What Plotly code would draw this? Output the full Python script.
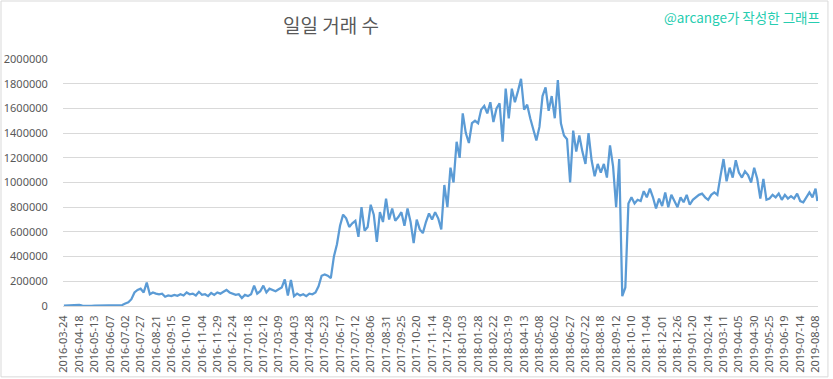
import plotly.graph_objects as go

# x-axis tick labels (every 25th observation)
tick_labels = [
    "2016-03-24", "2016-04-18", "2016-05-13", "2016-06-07", "2016-07-02", "2016-07-27",
    "2016-08-21", "2016-09-15", "2016-10-10", "2016-11-04", "2016-11-29", "2016-12-24",
    "2017-01-18", "2017-02-12", "2017-03-09", "2017-04-03", "2017-04-28", "2017-05-23",
    "2017-06-17", "2017-07-12", "2017-08-06", "2017-08-31", "2017-09-25", "2017-10-20",
    "2017-11-14", "2017-12-09", "2018-01-03", "2018-01-28", "2018-02-22", "2018-03-19",
    "2018-04-13", "2018-05-08", "2018-06-02", "2018-06-27", "2018-07-22", "2018-08-18",
    "2018-09-12", "2018-10-10", "2018-11-04", "2018-12-01", "2018-12-26", "2019-01-20",
    "2019-02-14", "2019-03-11", "2019-04-05", "2019-04-30", "2019-05-25", "2019-06-19",
    "2019-07-14", "2019-08-08",
]

# observation numbers of the readings (one reading every 5 observations, plus the last)
obs_index = list(range(0, 1226, 5)) + [1228]

# daily transaction counts, in thousands
values_k = [
    3, 5, 8, 12, 14, 10, 4, 2, 3, 2, 3, 4, 2, 5, 8, 4, 10, 6, 12, 8, 20, 30, 55,
    110, 130, 140, 110, 190, 95, 110, 100, 95, 100, 75, 85, 80, 90, 82, 95, 85, 110, 95, 100,
    85, 115, 90, 95, 80, 105, 90, 110, 100, 115, 130, 110, 100, 90, 95, 65, 90, 80, 95, 165,
    100, 120,
    165, 110, 140, 130, 120, 135, 150, 215, 85, 210, 80, 100, 85, 95, 80, 100, 95, 110,
    160, 245, 255, 245, 225, 400, 500, 650, 740, 710, 640, 670, 690, 560, 800, 610, 640, 820,
    740, 520, 760, 680, 870, 700, 790, 690, 720, 760, 650, 790, 680, 510, 700, 620, 590, 680,
    750, 700, 760, 710, 620,
    980, 800, 1120, 1000, 1330, 1200, 1560, 1400, 1320, 1480, 1500, 1480, 1590, 1620, 1560,
    1650, 1490, 1600, 1640, 1330, 1760, 1520, 1760, 1650, 1740, 1840, 1590, 1630, 1520, 1440,
    1340, 1450, 1700, 1770, 1580, 1700, 1520, 1830, 1480, 1380, 1350,
    1000, 1420, 1250, 1380, 1250, 1150, 1400, 1180, 1050, 1150, 1080, 1150, 1040, 1300, 1130,
    800, 1190,
    80, 150, 830, 880, 830, 860, 850, 930, 880, 950, 880, 790, 870, 810, 920, 800, 900, 850,
    800, 880, 840, 900, 820, 860, 880, 900,
    910, 880, 860, 900, 920, 900, 1050, 1190, 1010, 1120, 1040, 1180, 1080, 1040, 1090, 1060,
    1000, 1120, 1030, 870, 1030, 860, 870, 900, 880, 910, 860, 900, 870, 890, 870, 910, 850,
    840, 880, 920, 880, 950,
    850,
]

values = [v * 1000 for v in values_k]
tick_positions = [25 * i for i in range(len(tick_labels))]

TEXT = "#595959"
GRID = "#d9d9d9"
FONT = "Noto Sans, Noto Sans CJK KR, sans-serif"

fig = go.Figure(
    go.Scatter(
        x=obs_index,
        y=values,
        mode="lines",
        line=dict(color="#5B9BD5", width=2.25),
        hoverinfo="y",
    )
)

fig.update_layout(
    width=833,
    height=379,
    margin=dict(l=63, r=15, t=59, b=73),
    paper_bgcolor="white",
    plot_bgcolor="white",
    showlegend=False,
    font=dict(family=FONT, size=11, color=TEXT),
    xaxis=dict(
        range=[-1.5, 1229],
        tickmode="array",
        tickvals=tick_positions,
        ticktext=tick_labels,
        tickangle=-90,
        tickfont=dict(size=11, color=TEXT),
        showgrid=False,
        zeroline=False,
        showline=True,
        linecolor=GRID,
        linewidth=1,
        ticks="outside",
        ticklen=4,
        tickcolor="rgba(0,0,0,0)",
        automargin=False,
    ),
    yaxis=dict(
        range=[0, 2000000],
        dtick=200000,
        tickformat="d",
        tickfont=dict(size=11, color=TEXT),
        showgrid=True,
        gridcolor=GRID,
        gridwidth=1,
        zeroline=False,
        showline=False,
        ticks="outside",
        ticklen=12,
        tickcolor="rgba(0,0,0,0)",
        automargin=False,
    ),
    annotations=[
        dict(
            text="일일 거래 수",
            xref="paper", yref="paper",
            x=0.355, y=1.138,
            xanchor="center", yanchor="middle",
            showarrow=False,
            font=dict(family="Noto Sans CJK KR", size=19, color=TEXT),
        ),
        dict(
            text="@arcange가 작성한 그래프",
            xref="paper", yref="paper",
            x=1.005, y=1.17,
            xanchor="right", yanchor="middle",
            showarrow=False,
            font=dict(family="Noto Sans CJK KR", size=13.5, color="#26CDB0"),
        ),
    ],
    shapes=[
        dict(
            type="rect", xref="paper", yref="paper",
            x0=-0.0821, x1=1.0132, y0=-0.287, y1=1.2348,
            line=dict(color=GRID, width=1),
            fillcolor="rgba(0,0,0,0)",
            layer="below",
        )
    ],
)

fig.write_html(
    "out.html",
    config={"displayModeBar": False},
    post_script="document.body.style.margin='0';document.body.style.overflow='hidden';",
)
